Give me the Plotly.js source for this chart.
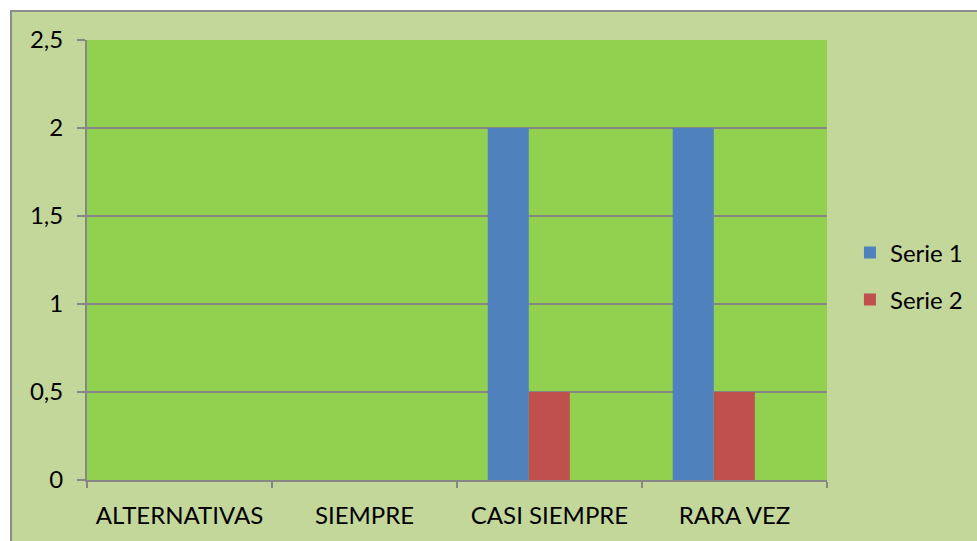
<!DOCTYPE html>
<html>
<head>
<meta charset="utf-8">
<script src="https://cdn.plot.ly/plotly-3.0.1.min.js"></script>
<style>
  html, body { margin: 0; padding: 0; background: #ffffff; overflow: hidden; }
  #frame { position: absolute; left: 10px; top: 10px; width: 980px; height: 540px;
           background: #c4d79b; border-left: 2px solid #8c8c8c; border-top: 2px solid #8c8c8c; }
  #chart { position: absolute; left: 0; top: 0; width: 977px; height: 541px; }
</style>
</head>
<body>
<div id="frame"></div>
<div id="chart"></div>
<script>
const categories = ["ALTERNATIVAS", "SIEMPRE", "CASI SIEMPRE", "RARA VEZ"];
const serie1 = [0, 0, 2, 2];
const serie2 = [0, 0, 0.5, 0.5];
const seriesNames = ["Serie 1", "Serie 2"];
const yTicks = [0, 0.5, 1, 1.5, 2, 2.5];

const font = { family: "Lato, 'Open Sans', sans-serif", size: 24, color: "#000000" };
const gray = "#868686";

const barWidth = 0.222;
const traces = [
  { type: "bar", name: seriesNames[0], x: categories, y: serie1, legendgroup: "a",
    width: barWidth, offset: -0.334,
    marker: { color: "#4f81bd", line: { width: 0 } } },
  { type: "bar", name: seriesNames[1], x: categories, y: serie2, legendgroup: "b",
    width: barWidth, offset: -0.334 + barWidth,
    marker: { color: "#c0504d", line: { width: 0 } } }
];

const layout = {
  width: 977, height: 541,
  margin: { l: 87, r: 150, t: 40, b: 61, pad: 0, autoexpand: false },
  paper_bgcolor: "rgba(0,0,0,0)",
  plot_bgcolor: "#92d050",
  font: font,
  separators: ",.",
  barmode: "group",
  showlegend: true,
  legend: { x: 1.031, y: 0.463, xanchor: "left", yanchor: "middle",
            bgcolor: "rgba(0,0,0,0)", font: font, tracegroupgap: 13,
            traceorder: "grouped" },
  xaxis: {
    type: "category",
    showline: true, linecolor: gray, linewidth: 2,
    ticks: "outside", tickson: "boundaries", ticklen: 6, tickwidth: 2, tickcolor: gray,
    showgrid: false, zeroline: false, fixedrange: true,
    ticklabelstandoff: 13,
    tickfont: font
  },
  yaxis: {
    range: [0, 2.5], tickvals: yTicks,
    showline: true, linecolor: gray, linewidth: 2,
    ticks: "outside", ticklen: 8, tickwidth: 2, tickcolor: gray,
    showgrid: true, gridcolor: gray, gridwidth: 2, zeroline: false,
    ticklabelstandoff: 9,
    tickfont: font, fixedrange: true
  }
};

Plotly.newPlot("chart", traces, layout, { displayModeBar: false, staticPlot: true });
</script>
</body>
</html>
